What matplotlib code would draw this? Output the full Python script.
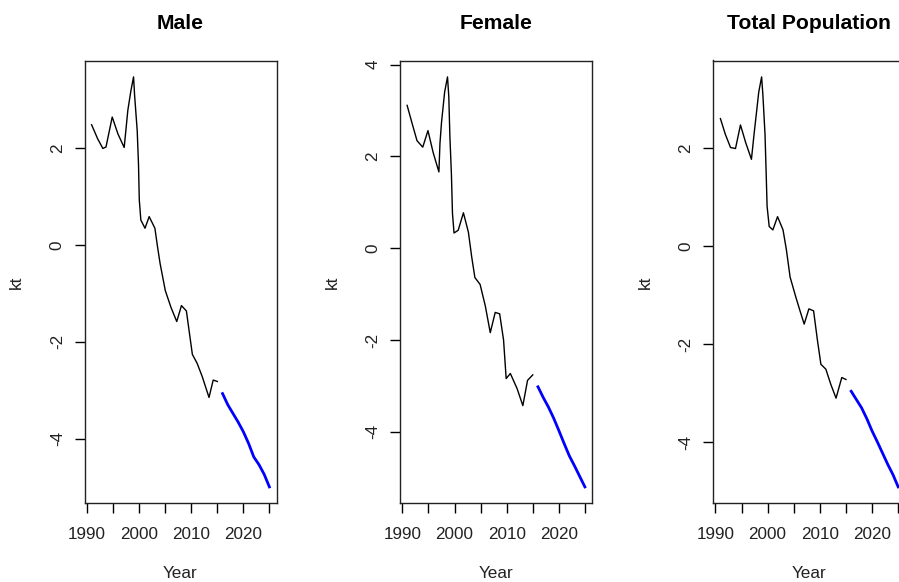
import matplotlib
matplotlib.use("Agg")
import matplotlib.pyplot as plt

plt.rcParams['font.family'] = ['Liberation Sans', 'DejaVu Sans']

male_years = [1990.84, 1992.0, 1993.0, 1993.6, 1994.8, 1995.9, 1997.1, 1997.8, 1998.4, 1998.9,
              1999.1, 1999.6, 1999.85, 2000.0, 2000.3, 2001.1, 2001.9, 2003.0, 2003.5, 2004.0,
              2005.0, 2006.1, 2007.2, 2008.1, 2009.05, 2010.2, 2011.1, 2012.1, 2013.4, 2014.2, 2015.0]
male_kt = [2.49, 2.2, 2.0, 2.03, 2.65, 2.3, 2.02, 2.79, 3.2, 3.48,
           3.1, 2.37, 1.67, 0.94, 0.52, 0.35, 0.59, 0.35, -0.03, -0.38,
           -0.94, -1.29, -1.58, -1.25, -1.36, -2.26, -2.44, -2.72, -3.15, -2.79, -2.82]

female_years = [1990.9, 1991.9, 1992.8, 1993.9, 1994.9, 1995.9, 1997.0, 1997.2, 1997.5, 1997.8,
                1998.1, 1998.65, 1998.9, 1999.1, 1999.4, 1999.6, 1999.9, 2000.7, 2001.7, 2002.65,
                2003.3, 2003.9, 2004.9, 2005.9, 2006.85, 2007.8, 2008.65, 2009.4, 2009.9, 2010.7,
                2012.0, 2013.1, 2014.0, 2015.0]
female_kt = [3.11, 2.70, 2.34, 2.20, 2.56, 2.08, 1.66, 2.28, 2.74, 3.07,
             3.40, 3.73, 3.29, 2.45, 1.60, 0.76, 0.33, 0.39, 0.77, 0.35,
             -0.2, -0.64, -0.79, -1.26, -1.84, -1.40, -1.43, -2.0, -2.84, -2.73,
             -3.06, -3.43, -2.88, -2.76]

total_years = [1990.96, 1991.9, 1992.9, 1993.85, 1994.8, 1995.8, 1996.9, 1997.4, 1997.8, 1998.3,
               1998.85, 1999.1, 1999.5, 1999.7, 1999.9, 2000.3, 2001.0, 2001.9, 2002.95, 2003.6,
               2004.3, 2005.4, 2006.2, 2007.0, 2007.9, 2008.8, 2009.55, 2010.2, 2011.15, 2012.1,
               2013.1, 2014.2, 2015.0]
total_kt = [2.60, 2.28, 2.01, 1.99, 2.47, 2.11, 1.77, 2.28, 2.66, 3.14,
            3.45, 3.07, 2.28, 1.56, 0.81, 0.40, 0.33, 0.60, 0.33, -0.08,
            -0.63, -1.04, -1.32, -1.59, -1.28, -1.32, -1.93, -2.41, -2.51, -2.82,
            -3.10, -2.68, -2.72]

# forecasts (blue)
fc_years = [2016, 2017, 2018, 2019, 2020, 2021, 2022, 2023, 2024, 2025]
male_fc = [-3.07, -3.30, -3.48, -3.66, -3.86, -4.10, -4.38, -4.54, -4.74, -5.00]
female_fc = [-3.02, -3.25, -3.46, -3.70, -3.97, -4.25, -4.52, -4.74, -4.97, -5.20]
total_fc = [-2.96, -3.13, -3.30, -3.52, -3.77, -3.99, -4.22, -4.45, -4.66, -4.91]

titles = ["Male", "Female", "Total Population"]
year_ticks = [1990, 1995, 2000, 2005, 2010, 2015, 2020, 2025]
year_labels = ["1990", "", "2000", "", "2010", "", "2020", ""]

W, H = 899, 582
fig = plt.figure(figsize=(W / 100, H / 100), dpi=100)

panels = [
    (male_years, male_kt, male_fc, [-4, -2, 0, 2]),
    (female_years, female_kt, female_fc, [-4, -2, 0, 2, 4]),
    (total_years, total_kt, total_fc, [-4, -2, 0, 2]),
]
lefts = [84.5, 400, 713.3]
box_w, box_top, box_bot = 192, 60.5, 503.3

for i, (yrs, kt, fc, yt) in enumerate(panels):
    ax = fig.add_axes([lefts[i] / W, (H - box_bot) / H, box_w / W, (box_bot - box_top) / H])
    ax.plot(yrs, kt, color='black', lw=1.0)
    ax.plot(fc_years, fc, color='blue', lw=2.0)

    # R style 4% padding
    xmin, xmax = yrs[0], fc_years[-1]
    xr = xmax - xmin
    ax.set_xlim(xmin - 0.04 * xr, xmax + 0.04 * xr)
    ymin, ymax = min(kt + fc), max(kt + fc)
    yr = ymax - ymin
    ax.set_ylim(ymin - 0.04 * yr, ymax + 0.04 * yr)

    ax.set_xticks(year_ticks)
    ax.set_xticklabels(year_labels)
    ax.set_yticks(yt)
    ax.set_yticklabels([str(v) for v in yt], rotation=90, va='center')
    ax.tick_params(axis='both', direction='out', length=7.2, width=1.0, labelsize=12.3,
                   labelcolor='#222222')
    ax.tick_params(axis='x', pad=10)
    ax.tick_params(axis='y', pad=7)
    for s in ax.spines.values():
        s.set_linewidth(1.0)
        s.set_color('#222222')

    ax.text(0.5, (box_bot - 23.3) / (box_bot - box_top), titles[i], transform=ax.transAxes,
            ha='center', va='center', fontsize=15.2, fontweight='bold')
    ax.text(0.5, -(573 - box_bot) / (box_bot - box_top), "Year", transform=ax.transAxes,
            ha='center', va='center', fontsize=12.3, color='#222222')
    ax.text(-(lefts[0] - 16.7) / box_w, 0.5, "kt", transform=ax.transAxes,
            ha='center', va='center', rotation=90, fontsize=12.3, color='#222222')

fig.savefig("out.png", dpi=100)
